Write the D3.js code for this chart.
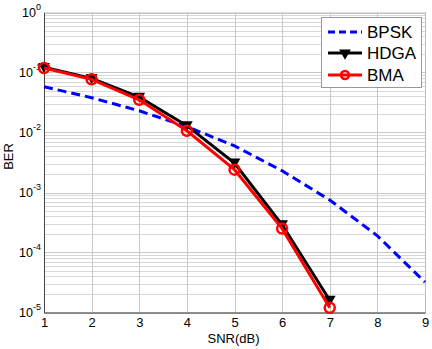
<!DOCTYPE html>
<html><head><meta charset="utf-8">
<script src="https://cdn.jsdelivr.net/npm/d3@7"></script>
<style>body{margin:0;background:#fff}svg{display:block}text{font-family:Arial,"Liberation Sans",sans-serif}</style>
</head><body><svg id="c" width="432" height="349"></svg>
<script>
const snr = [1,2,3,4,5,6,7,8,9];
const bpsk = [0.058,0.038,0.023,0.0125,0.006,0.0023,0.00075,0.00019,0.000032];
const hdgaX = [1,2,3,4,5,6,7];
const hdga = [0.122,0.080,0.039,0.013,0.0031,0.00029,0.000016];
const bmaX = [1,2,3,4,5,6,7];
const bma = [0.119,0.077,0.035,0.0107,0.0024,0.00025,0.000012];
const xTicks = [1,2,3,4,5,6,7,8,9];
const yExps = [0,-1,-2,-3,-4,-5];
const legendNames = ["BPSK","HDGA","BMA"];

const svg = d3.select("#c");
const L=44,R=425,T=12.5,B=312.5;
const x = d3.scaleLinear().domain([1,9]).range([L,R]);
const y = d3.scaleLog().domain([1e-5,1]).range([B,T]);

// grid
const g = svg.append("g");
const minor=[];
for(let e=-5;e<0;e++) for(let m=2;m<=9;m++) minor.push(m*Math.pow(10,e));
g.selectAll(".mn").data(minor).join("line").attr("x1",L).attr("x2",R)
 .attr("y1",d=>Math.round(y(d))+0.5).attr("y2",d=>Math.round(y(d))+0.5).attr("stroke","#d8d8d8").attr("stroke-width",1);
g.selectAll(".mj").data(yExps).join("line").attr("x1",L).attr("x2",R)
 .attr("y1",d=>Math.round(y(Math.pow(10,d)))+0.5).attr("y2",d=>Math.round(y(Math.pow(10,d)))+0.5).attr("stroke","#c8c8c8");
g.selectAll(".vx").data(xTicks).join("line").attr("y1",T).attr("y2",B)
 .attr("x1",d=>Math.round(x(d))+0.5).attr("x2",d=>Math.round(x(d))+0.5).attr("stroke","#c8c8c8");
svg.append("rect").attr("x",L+0.5).attr("y",T+0.5).attr("width",R-L).attr("height",B-T).attr("fill","none").attr("stroke","#bbb");

// axes
const xa = svg.append("g").attr("transform",`translate(0,${B})`).call(d3.axisBottom(x).tickValues(xTicks).tickSize(0).tickPadding(5).tickFormat(d3.format("d")));
xa.select(".domain").attr("stroke","#444");
xa.selectAll("text").attr("font-size",13).attr("fill","#000").attr("font-family","Arial, Liberation Sans, sans-serif");
const ya = svg.append("g").attr("transform",`translate(${L},0)`).call(d3.axisLeft(y).tickValues(yExps.map(e=>Math.pow(10,e))).tickSize(0).tickFormat(""));
ya.select(".domain").attr("stroke","#444");
const yl = svg.append("g");
yExps.forEach(e=>{
  const t = yl.append("text").attr("x",L-3).attr("y",y(Math.pow(10,e))+4).attr("text-anchor","end").attr("font-size",12.5).attr("fill","#000");
  t.append("tspan").text("10");
  t.append("tspan").attr("dy",-7).attr("font-size",9).text(String(e));
});
svg.append("text").attr("x",(L+R)/2 - 1).attr("y",343).attr("text-anchor","middle").attr("font-size",13).text("SNR(dB)");
svg.append("text").attr("transform",`translate(13,${(T+B)/2 - 6}) rotate(-90)`).attr("text-anchor","middle").attr("font-size",13).text("BER");

const line = d3.line().x(d=>x(d[0])).y(d=>y(d[1]));
svg.append("path").datum(snr.map((s,i)=>[s,bpsk[i]])).attr("d",line).attr("fill","none").attr("stroke","#0000ff").attr("stroke-width",3).attr("stroke-dasharray","9,5");
const hd = hdgaX.map((s,i)=>[s,hdga[i]]);
svg.append("path").datum(hd).attr("d",line).attr("fill","none").attr("stroke","#000").attr("stroke-width",3);
const tri = d3.symbol().type(d3.symbolTriangle).size(60);
svg.selectAll(".tri").data(hd).join("path").attr("d",tri).attr("transform",d=>`translate(${x(d[0])},${y(d[1])-1}) rotate(180)`).attr("fill","#000");
const bm = bmaX.map((s,i)=>[s,bma[i]]);
svg.append("path").datum(bm).attr("d",line).attr("fill","none").attr("stroke","#ff0000").attr("stroke-width",3);
svg.selectAll(".cir").data(bm).join("circle").attr("cx",d=>x(d[0])).attr("cy",d=>y(d[1])).attr("r",5).attr("fill","none").attr("stroke","#ff0000").attr("stroke-width",2.5);

// legend
const lg = svg.append("g");
lg.append("rect").attr("x",321.5).attr("y",17.5).attr("width",100).attr("height",70).attr("fill","#fff").attr("stroke","#999");
const ly=[32,53,75];
legendNames.forEach((n,i)=>{
  const yy=ly[i];
  const ln = lg.append("line").attr("x1",328).attr("x2",362).attr("y1",yy).attr("y2",yy).attr("stroke-width",3)
    .attr("stroke",["#0000ff","#000","#ff0000"][i]);
  if(i===0) ln.attr("stroke-dasharray","7,4");
  if(i===1) lg.append("path").attr("d",tri).attr("transform",`translate(345,${yy}) rotate(180)`).attr("fill","#000");
  if(i===2) lg.append("circle").attr("cx",345).attr("cy",yy).attr("r",4).attr("fill","none").attr("stroke","#ff0000").attr("stroke-width",2.5);
  lg.append("text").attr("x",367).attr("y",yy+6).attr("font-size",17).text(n);
});
</script></body></html>
